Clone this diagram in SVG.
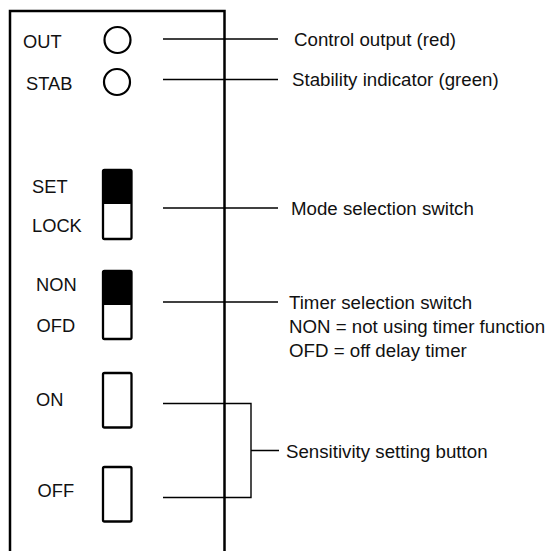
<svg xmlns="http://www.w3.org/2000/svg" width="550" height="551" viewBox="0 0 550 551">
<style>
text{font-family:"Liberation Sans",Arial,sans-serif;fill:#111;}
.lab{font-size:18.3px;}
.rl{font-size:18.7px;}
.box{fill:none;stroke:#000;stroke-width:2.5;}
.led{fill:#fff;stroke:#000;stroke-width:2.2;}
.sw{fill:#fff;stroke:#000;stroke-width:2.3;}
.ld{fill:none;stroke:#000;stroke-width:1.4;}
</style>
<rect width="550" height="551" fill="#fff"/>
<path class="box" d="M10,552 V11 H224.5 V552"/>
<g id="out">
<text class="lab" x="23" y="48">OUT</text>
<circle class="led" cx="117.5" cy="40" r="13"/>
</g>
<g id="stab">
<text class="lab" x="26" y="90">STAB</text>
<circle class="led" cx="117" cy="82" r="13"/>
</g>
<g id="mode-switch">
<text class="lab" x="32" y="193">SET</text>
<text class="lab" x="32" y="231.5">LOCK</text>
<rect class="sw" x="103" y="170" width="28.5" height="69" rx="1.5"/>
<rect x="103" y="170" width="28.5" height="34" rx="1.5" fill="#000"/>
</g>
<g id="timer-switch">
<text class="lab" x="36" y="291">NON</text>
<text class="lab" x="36.5" y="332">OFD</text>
<rect class="sw" x="103" y="271" width="28.5" height="68" rx="1.5"/>
<rect x="103" y="271" width="28.5" height="34" rx="1.5" fill="#000"/>
</g>
<g id="on-button">
<text class="lab" x="36" y="406">ON</text>
<rect class="sw" x="103" y="373" width="28.5" height="54.5" rx="1.5"/>
</g>
<g id="off-button">
<text class="lab" x="37.5" y="497">OFF</text>
<rect class="sw" x="103" y="467" width="28.5" height="54.5" rx="1.5"/>
</g>
<g id="connectors">
<line class="ld" x1="163" y1="39" x2="278" y2="39"/>
<line class="ld" x1="163" y1="79.5" x2="278" y2="79.5"/>
<line class="ld" x1="163" y1="208" x2="278" y2="208"/>
<line class="ld" x1="163" y1="302" x2="278" y2="302"/>
<path class="ld" d="M163,403.5 H251 V497.5 H163 M251,450.5 H279"/>
</g>
<g id="labels">
<text class="rl" x="294" y="46">Control output (red)</text>
<text class="rl" x="292" y="86">Stability indicator (green)</text>
<text class="rl" x="291" y="215">Mode selection switch</text>
<text class="rl" x="289" y="309">Timer selection switch</text>
<text class="rl" x="289" y="333">NON = not using timer function</text>
<text class="rl" x="289" y="357">OFD = off delay timer</text>
<text class="rl" x="286" y="458">Sensitivity setting button</text>
</g>
</svg>
